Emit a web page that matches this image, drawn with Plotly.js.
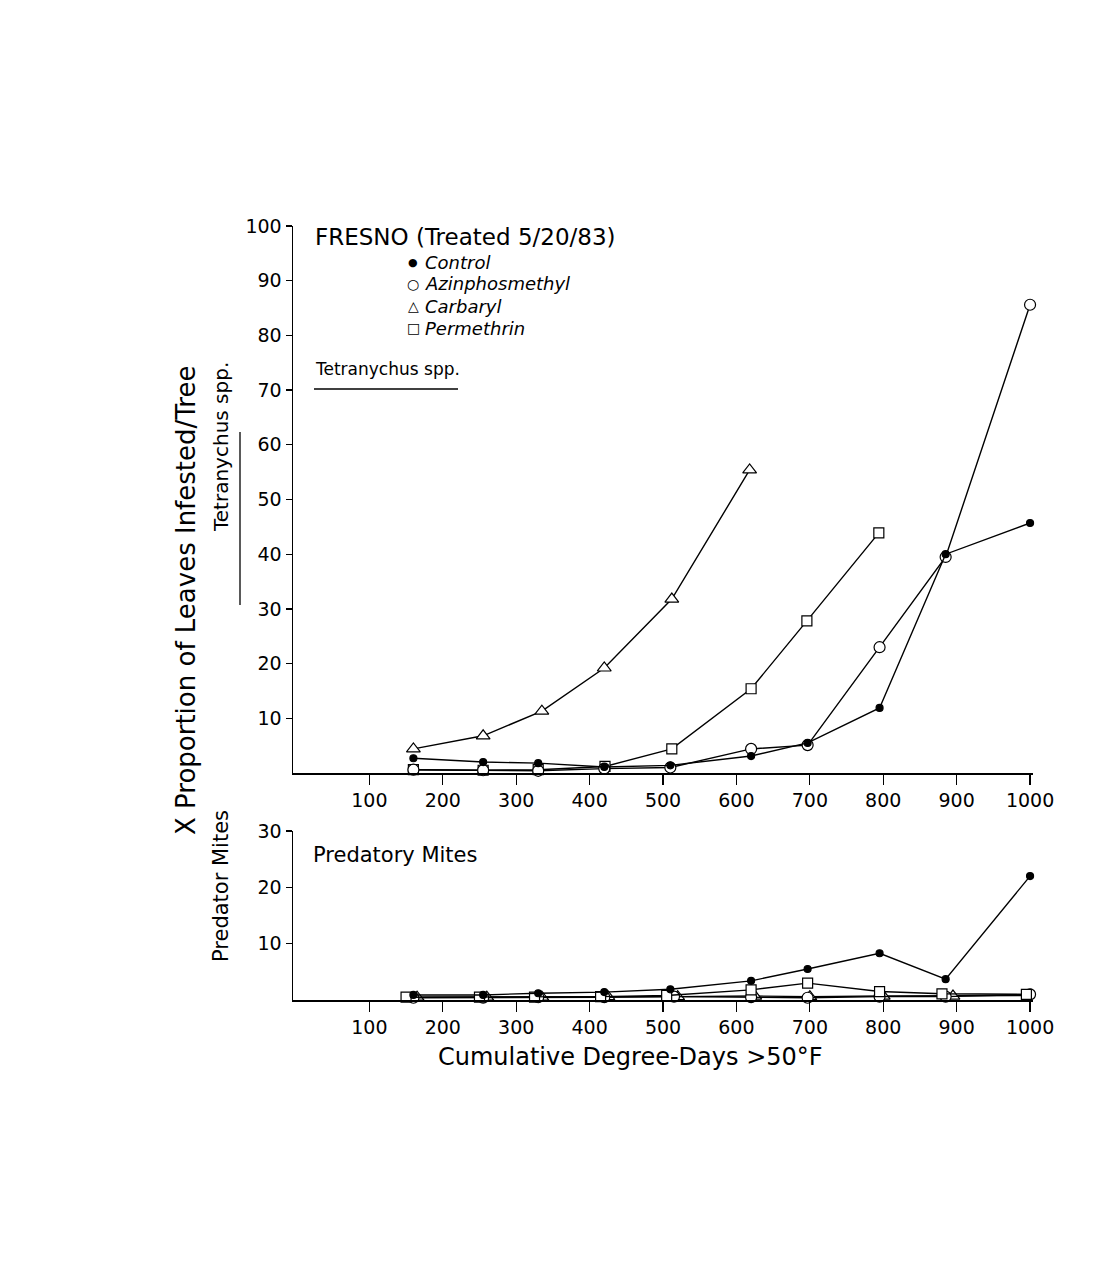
<!DOCTYPE html>
<html>
<head>
<meta charset="utf-8">
<script src="https://cdn.plot.ly/plotly-3.0.1.min.js"></script>
<style>body{margin:0;background:#fff}</style>
</head>
<body>
<div id="chart" style="width:1111px;height:1288px"></div>
<script>
// ---- Data ----
// Upper panel: Tetranychus spp.
const tetraControlX = [160, 255, 330, 420, 510, 620, 697, 795, 885, 1000];
const tetraControlY = [2.7, 2.0, 1.8, 1.1, 1.4, 3.1, 5.5, 11.9, 40, 45.7];
const tetraAzinX = [160, 255, 330, 420, 510, 620, 697, 795, 885, 1000];
const tetraAzinY = [0.6, 0.5, 0.4, 0.8, 1.0, 4.4, 5.1, 23, 39.5, 85.6];
const tetraCarbX = [160, 255, 335, 420, 512, 618];
const tetraCarbY = [4.4, 6.8, 11.3, 19.2, 31.8, 55.4];
const tetraPermX = [160, 255, 330, 421, 512, 620, 696, 794];
const tetraPermY = [0.6, 0.5, 0.6, 1.2, 4.4, 15.4, 27.8, 43.9];

// Lower panel: Predatory mites
const predControlX = [160, 255, 330, 420, 510, 620, 697, 795, 885, 1000];
const predControlY = [0.9, 0.9, 1.2, 1.4, 1.9, 3.4, 5.5, 8.3, 3.7, 22];
const predAzinX = [160, 255, 330, 420, 515, 620, 697, 795, 885, 1000];
const predAzinY = [0.4, 0.4, 0.5, 0.5, 0.6, 0.5, 0.4, 0.6, 0.6, 1.0];
const predCarbX = [165, 260, 335, 425, 520, 625, 700, 800, 895, 1012];
const predCarbY = [0.5, 0.5, 0.5, 0.6, 0.6, 0.7, 0.6, 0.7, 0.7, 0.8];
const predPermX = [150, 250, 325, 415, 505, 620, 697, 795, 880, 995];
const predPermY = [0.5, 0.5, 0.5, 0.6, 0.8, 1.8, 3.0, 1.5, 1.1, 1.0];

const xTicks = [100, 200, 300, 400, 500, 600, 700, 800, 900, 1000];
const xTickText = ["100", "200", "300", "400", "500", "600", "700", "800", "900", "1000"];
const yTicksTop = [10, 20, 30, 40, 50, 60, 70, 80, 90, 100];
const yTicksBottom = [10, 20, 30];

const treatments = ["Control", "Azinphosmethyl", "Carbaryl", "Permethrin"];
const treatmentSymbols = ["\u25CF", "\u25CB", "\u25B3", "\u25A1"];

// ---- Styles ----
const FONT = "DejaVu Sans, Liberation Sans, sans-serif";
const styles = {
  Control: {symbol: "circle", size: 7, color: "#000", lw: 1.2},
  Azinphosmethyl: {symbol: "circle", size: 11, color: "#fff", lw: 1.2},
  Carbaryl: {symbol: "triangle-up", size: 12, color: "#fff", lw: 1.2},
  Permethrin: {symbol: "square", size: 10, color: "#fff", lw: 1.2}
};
function tr(name, x, y, xa, ya) {
  const s = styles[name];
  return {
    type: "scatter", mode: "lines+markers", name: name, x: x, y: y,
    xaxis: xa, yaxis: ya, showlegend: false, cliponaxis: false,
    line: {color: "#000", width: 1.4},
    marker: {symbol: s.symbol, size: s.size, color: s.color, line: {color: "#000", width: s.lw}}
  };
}
const data = [
  tr("Permethrin", tetraPermX, tetraPermY, "x", "y"),
  tr("Azinphosmethyl", tetraAzinX, tetraAzinY, "x", "y"),
  tr("Carbaryl", tetraCarbX, tetraCarbY, "x", "y"),
  tr("Control", tetraControlX, tetraControlY, "x", "y"),
  tr("Carbaryl", predCarbX, predCarbY, "x2", "y2"),
  tr("Azinphosmethyl", predAzinX, predAzinY, "x2", "y2"),
  tr("Permethrin", predPermX, predPermY, "x2", "y2"),
  tr("Control", predControlX, predControlY, "x2", "y2")
];

// pixel -> paper helpers (plot area: x 293..1033, y 226..1000)
const L = 293, R = 1033, T = 226, B = 1000;
const px = v => (v - L) / (R - L);
const py = v => (B - v) / (B - T);

const axisCommon = {
  showline: true, linecolor: "#000", linewidth: 1.5, showgrid: false, zeroline: false,
  ticks: "outside", tickcolor: "#000", tickwidth: 1.3,
  tickfont: {family: FONT, size: 19, color: "#000"}
};
const xaxisBase = Object.assign({}, axisCommon, {
  range: [-4, 1004], tickmode: "array", tickvals: xTicks, ticktext: xTickText, ticklen: 10
});

const annotations = [
  {text: "FRESNO (Treated 5/20/83)", x: px(313), y: py(237), xanchor: "left", yanchor: "middle",
   font: {family: FONT, size: 23, color: "#000"}},
  {text: "Tetranychus spp.", x: px(313), y: py(369), xanchor: "left", yanchor: "middle",
   font: {family: FONT, size: 17, color: "#000"}},
  {text: "Predatory Mites", x: px(311), y: py(855), xanchor: "left", yanchor: "middle",
   font: {family: FONT, size: 21, color: "#000"}},
  {text: "X Proportion of Leaves Infested/Tree", x: px(186), y: py(601), textangle: -90,
   xanchor: "center", yanchor: "middle", font: {family: FONT, size: 26, color: "#000"}},
  {text: "Tetranychus spp.", x: px(221), y: py(447), textangle: -90,
   xanchor: "center", yanchor: "middle", font: {family: FONT, size: 20, color: "#000"}},
  {text: "Predator Mites", x: px(221), y: py(886), textangle: -90,
   xanchor: "center", yanchor: "middle", font: {family: FONT, size: 21, color: "#000"}},
  {text: "Cumulative Degree-Days >50°F", x: px(630), y: py(1057), xanchor: "center", yanchor: "middle",
   font: {family: FONT, size: 24, color: "#000"}}
];
const legendY = [262, 284, 306, 328];
treatments.forEach((t, i) => {
  annotations.push({text: treatmentSymbols[i], x: px(413), y: py(legendY[i]), xanchor: "center", yanchor: "middle",
    font: {family: FONT, size: i === 0 ? 11 : 14, color: "#000"}});
  annotations.push({text: "<i>" + t + "</i>", x: px(423), y: py(legendY[i]), xanchor: "left", yanchor: "middle",
    font: {family: FONT, size: 18, color: "#000"}});
});
annotations.forEach(a => { a.xref = "paper"; a.yref = "paper"; a.showarrow = false; });

const layout = {
  width: 1111, height: 1288,
  margin: {l: L, r: 1111 - R, t: T, b: 1288 - B, pad: 0},
  paper_bgcolor: "#fff", plot_bgcolor: "rgba(0,0,0,0)",
  showlegend: false,
  xaxis: Object.assign({}, xaxisBase, {anchor: "y", domain: [0, 1]}),
  xaxis2: Object.assign({}, xaxisBase, {anchor: "y2", domain: [0, 1]}),
  yaxis: Object.assign({}, axisCommon, {range: [0, 100], tickvals: yTicksTop, ticklen: 6,
    domain: [py(773), 1], anchor: "x"}),
  yaxis2: Object.assign({}, axisCommon, {range: [0, 30], tickvals: yTicksBottom, ticklen: 6,
    domain: [0, py(831)], anchor: "x2"}),
  annotations: annotations,
  shapes: [
    {type: "line", xref: "paper", yref: "paper", x0: px(314), x1: px(458), y0: py(389), y1: py(389),
     line: {color: "#000", width: 1.3}},
    {type: "line", xref: "paper", yref: "paper", x0: px(240), x1: px(240), y0: py(432), y1: py(605),
     line: {color: "#000", width: 1.3}}
  ]
};

Plotly.newPlot("chart", data, layout, {staticPlot: true, displayModeBar: false});
</script>
</body>
</html>
